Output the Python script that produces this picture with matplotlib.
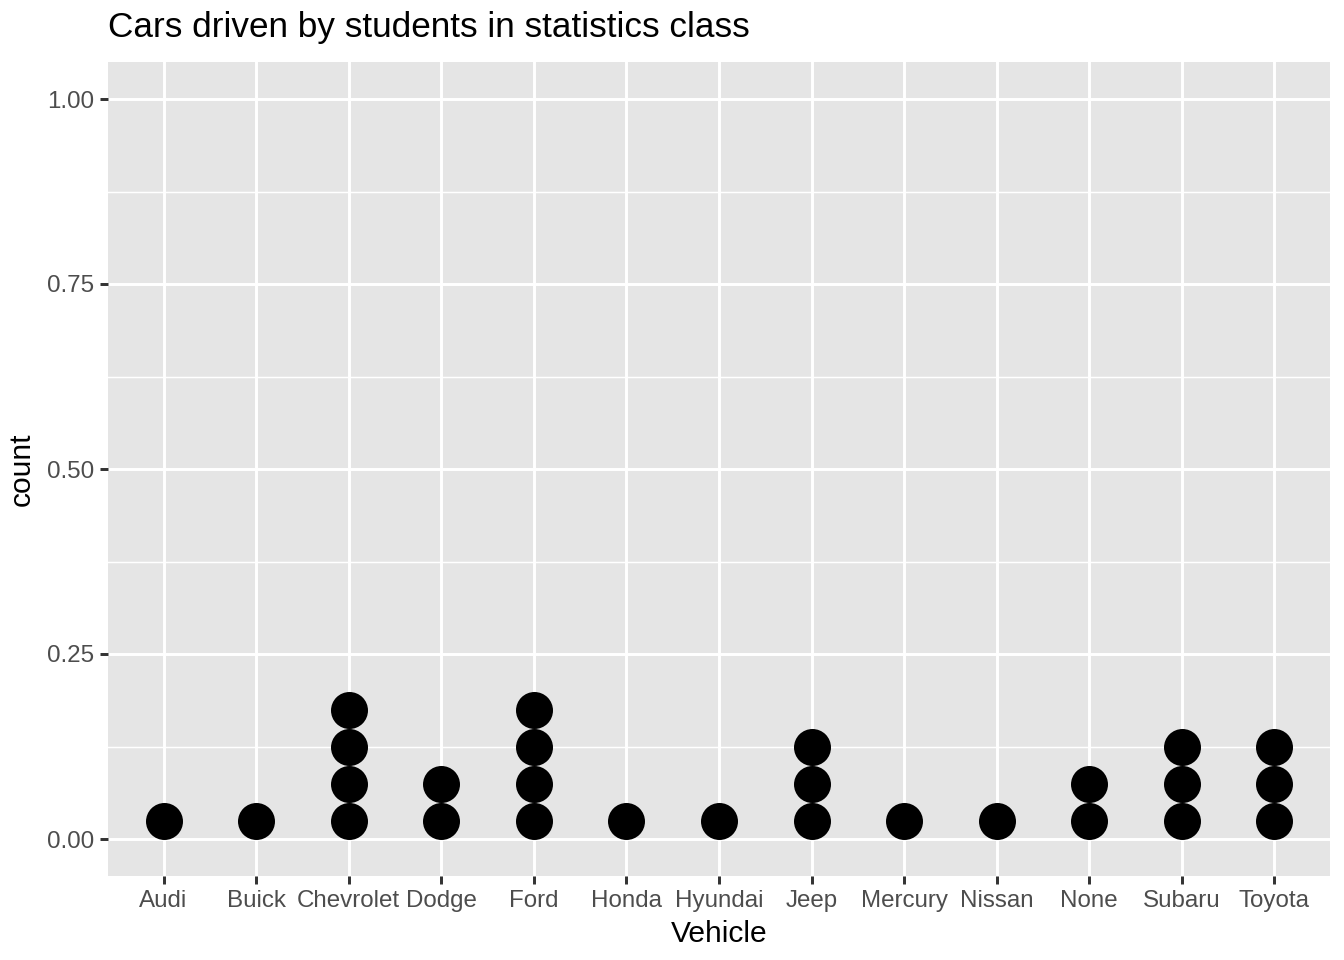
import numpy as np
import matplotlib.pyplot as plt
from matplotlib.ticker import FixedLocator

plt.rcParams['font.family'] = ['Liberation Sans', 'DejaVu Sans']

# ======= Dados =======
vehicles = ['Audi', 'Buick', 'Chevrolet', 'Dodge', 'Ford', 'Honda', 'Hyundai',
            'Jeep', 'Mercury', 'Nissan', 'None', 'Subaru', 'Toyota']
counts = [1, 1, 4, 2, 4, 1, 1, 3, 1, 1, 2, 3, 3]
binwidth = 0.05  # cada ponto ocupa 0.05 no eixo y (dotplot do ggplot)

# ======= Figura =======
dpi = 200
fig = plt.figure(figsize=(1344 / dpi, 960 / dpi), dpi=dpi)
ax = fig.add_axes([108 / 1344, 1 - 876 / 960, (1330 - 108) / 1344, (876 - 62) / 960])

ax.set_facecolor('#E5E5E5')
ax.set_xlim(0.4, len(vehicles) + 0.6)
ax.set_ylim(-0.05, 1.05)

ax.yaxis.set_major_locator(FixedLocator([0, 0.25, 0.5, 0.75, 1.0]))
ax.yaxis.set_minor_locator(FixedLocator([0.125, 0.375, 0.625, 0.875]))
ax.set_xticks(range(1, len(vehicles) + 1))
ax.set_xticklabels(vehicles)
ax.set_yticklabels(['0.00', '0.25', '0.50', '0.75', '1.00'])

ax.grid(which='major', color='white', linewidth=1.07)
ax.grid(which='minor', axis='y', color='white', linewidth=0.53)
ax.set_axisbelow(True)
for s in ax.spines.values():
    s.set_visible(False)

ax.tick_params(which='major', length=2.75, width=1.07, color='#333333',
               labelsize=8.7, labelcolor='#4D4D4D', pad=2.2)
ax.tick_params(which='minor', length=0)

# tamanho do marcador: diâmetro = binwidth em unidades de dados
panel_h_px = 876 - 62
diam_px = binwidth * panel_h_px / 1.1
ms = diam_px * 72 / dpi

for i, c in enumerate(counts):
    xs = np.full(c, i + 1)
    ys = binwidth / 2 + binwidth * np.arange(c)
    ax.plot(xs, ys, 'o', color='black', markersize=ms, markeredgewidth=0)

ax.set_xlabel('Vehicle', fontsize=10.8, labelpad=3)
ax.set_ylabel('count', fontsize=10.8, labelpad=4)
ax.set_title('Cars driven by students in statistics class', fontsize=12.65,
             loc='left', pad=9)

fig.savefig('out.png', dpi=dpi, facecolor='white')
